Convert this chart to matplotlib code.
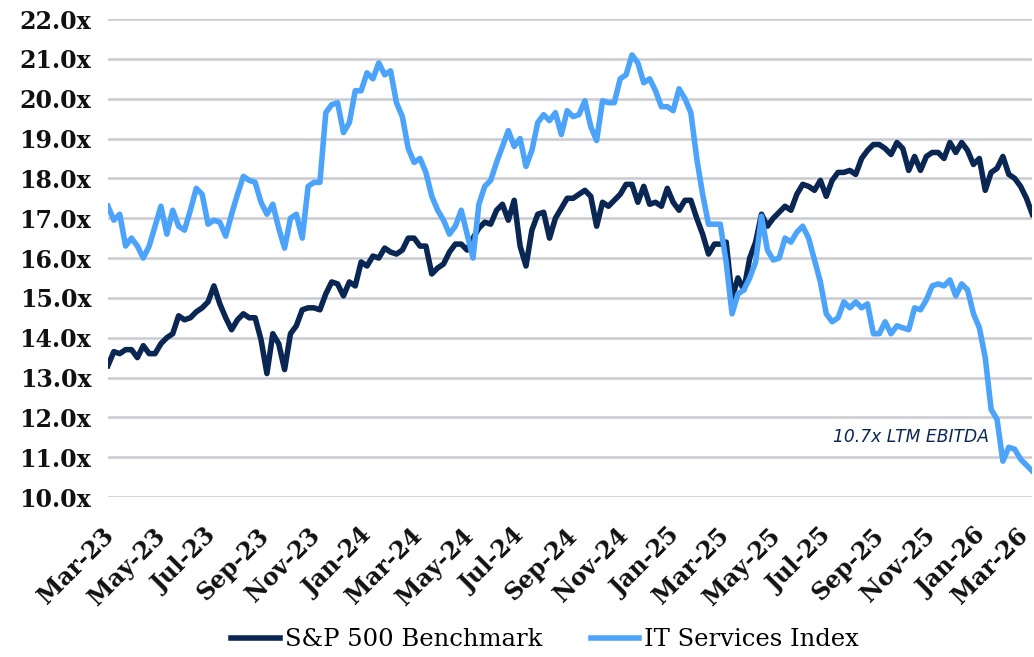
import pandas as pd
import numpy as np
import matplotlib.pyplot as plt
import matplotlib.dates as mdates
from matplotlib.transforms import ScaledTranslation

# =========================
# Weekly LTM EV/EBITDA multiples
# =========================
start_date = "2023-03-01"
n_weeks = 158

sp500 = [
    13.3, 13.65, 13.6, 13.7, 13.7, 13.5, 13.8, 13.6, 13.6, 13.85,
    14.0, 14.1, 14.55, 14.45, 14.5, 14.65, 14.75, 14.9, 15.3, 14.85,
    14.5, 14.2, 14.45, 14.6, 14.5, 14.5, 13.95, 13.1, 14.1, 13.85,
    13.2, 14.1, 14.3, 14.7, 14.75, 14.75, 14.7, 15.1, 15.4, 15.35,
    15.05, 15.4, 15.3, 15.9, 15.8, 16.05, 16.0, 16.25, 16.15, 16.1,
    16.2, 16.5, 16.5, 16.3, 16.3, 15.6, 15.75, 15.85, 16.15, 16.35,
    16.35, 16.2, 16.5, 16.75, 16.9, 16.85, 17.2, 17.35, 16.95, 17.45,
    16.3, 15.8, 16.7, 17.1, 17.15, 16.5, 17.0, 17.25, 17.5, 17.5,
    17.6, 17.7, 17.55, 16.8, 17.4, 17.3, 17.45, 17.6, 17.85, 17.85,
    17.4, 17.8, 17.35, 17.4, 17.3, 17.75, 17.4, 17.2, 17.45, 17.45,
    17.0, 16.6, 16.1, 16.35, 16.35, 16.4, 15.0, 15.5, 15.2, 16.0,
    16.4, 17.1, 16.8, 17.0, 17.15, 17.3, 17.2, 17.6, 17.85, 17.8,
    17.7, 17.95, 17.55, 17.95, 18.15, 18.15, 18.2, 18.1, 18.5, 18.7,
    18.85, 18.85, 18.75, 18.6, 18.9, 18.75, 18.2, 18.55, 18.2, 18.55,
    18.65, 18.65, 18.5, 18.9, 18.65, 18.9, 18.7, 18.35, 18.5, 17.7,
    18.15, 18.25, 18.55, 18.1, 18.0, 17.8, 17.5, 17.1,
]

it_services = [
    17.3, 16.95, 17.1, 16.3, 16.5, 16.3, 16.0, 16.3, 16.8, 17.3,
    16.6, 17.2, 16.8, 16.7, 17.2, 17.75, 17.6, 16.85, 16.95, 16.9,
    16.55, 17.1, 17.6, 18.05, 17.95, 17.9, 17.4, 17.1, 17.35, 16.75,
    16.25, 17.0, 17.1, 16.5, 17.8, 17.9, 17.9, 19.65, 19.85, 19.9,
    19.15, 19.4, 20.2, 20.2, 20.65, 20.5, 20.9, 20.6, 20.7, 19.9,
    19.55, 18.75, 18.4, 18.5, 18.15, 17.55, 17.2, 16.95, 16.6, 16.8,
    17.2, 16.6, 16.0, 17.35, 17.8, 17.95, 18.4, 18.8, 19.2, 18.8,
    19.0, 18.3, 18.7, 19.4, 19.6, 19.45, 19.65, 19.1, 19.7, 19.55,
    19.6, 19.95, 19.3, 18.95, 19.95, 19.9, 19.9, 20.5, 20.6, 21.1,
    20.9, 20.4, 20.5, 20.2, 19.8, 19.8, 19.7, 20.25, 20.0, 19.65,
    18.5, 17.6, 16.85, 16.85, 16.85, 15.9, 14.6, 15.1, 15.2, 15.5,
    15.9, 17.05, 16.2, 15.95, 16.0, 16.5, 16.4, 16.65, 16.8, 16.5,
    15.95, 15.4, 14.6, 14.4, 14.5, 14.9, 14.75, 14.9, 14.75, 14.85,
    14.1, 14.1, 14.4, 14.1, 14.3, 14.25, 14.2, 14.75, 14.7, 14.95,
    15.3, 15.35, 15.3, 15.45, 15.05, 15.35, 15.2, 14.6, 14.25, 13.5,
    12.2, 11.95, 10.9, 11.25, 11.2, 10.95, 10.8, 10.65,
]

y_ticks = np.arange(10, 23, 1)
annotation = "10.7x LTM EBITDA"

dates = pd.date_range(start_date, periods=n_weeks, freq="7D")

navy = "#0a2653"
light_blue = "#4ba3fa"
grid_gray = "#c9cbd1"

# -------------------------
# Figure
# -------------------------
fig = plt.figure(figsize=(10.34, 6.57), dpi=100)
ax = fig.add_axes([0.1044, 0.2435, 0.894, 0.7275])

ax.plot(dates, sp500, color=navy, lw=4.0, solid_joinstyle="round",
        label="S&P 500 Benchmark", zorder=3)
ax.plot(dates, it_services, color=light_blue, lw=4.0, solid_joinstyle="round",
        label="IT Services Index", zorder=4)

ax.set_ylim(10, 22)
ax.set_xlim(dates[0], dates[-1])
ax.set_yticks(y_ticks)
ax.set_yticklabels([f"{v:.1f}x" for v in y_ticks],
                   fontfamily="DejaVu Serif", fontweight="bold", fontsize=17)
ax.yaxis.grid(True, color=grid_gray, lw=1.8)
ax.set_axisbelow(True)

ax.xaxis.set_major_locator(mdates.MonthLocator(bymonth=[1, 3, 5, 7, 9, 11]))
ax.xaxis.set_major_formatter(mdates.DateFormatter("%b-%y"))
ax.tick_params(axis="both", length=0, colors="#111111")
ax.tick_params(axis="y", pad=12)
ax.tick_params(axis="x", pad=14)

xlabels = ax.get_xticklabels()
for k, lbl in enumerate(xlabels):
    lbl.set_fontfamily("DejaVu Serif")
    lbl.set_fontweight("bold")
    lbl.set_fontsize(17)
    lbl.set_rotation(45)
    lbl.set_ha("right")
    lbl.set_rotation_mode("anchor")
    dx = -14 if k == len(xlabels) - 1 else -6
    lbl.set_transform(lbl.get_transform()
                      + ScaledTranslation(dx / 100, -7 / 100, fig.dpi_scale_trans))

for spine in ax.spines.values():
    spine.set_visible(False)

ax.text(pd.Timestamp("2026-01-12"), 11.5, annotation, color=navy,
        fontfamily="DejaVu Sans", fontstyle="italic", fontsize=12.3,
        ha="right", va="center")

fig.legend(loc="center", bbox_to_anchor=(0.527, 0.026), ncol=2, frameon=False,
           prop={"family": "DejaVu Serif", "size": 17.5},
           handlelength=2.0, columnspacing=2.0, handletextpad=0.2)

plt.savefig("out.png", dpi=100)
plt.close()
